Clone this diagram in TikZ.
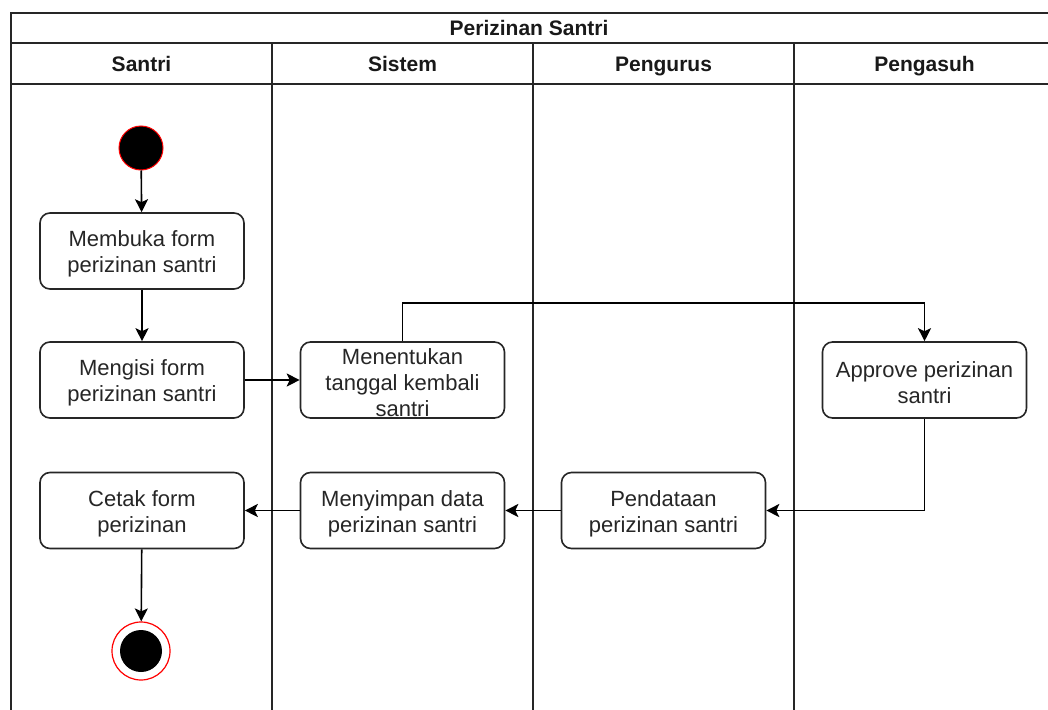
\documentclass[tikz,border=0pt]{standalone}
\usepackage{fontspec}
\setmainfont{Liberation Sans}
\usetikzlibrary{arrows.meta}
\begin{document}
\begin{tikzpicture}[x=1pt,y=-1pt,
  lane/.style={draw=black!85,line width=1.5pt},
  act/.style={draw=black!85,line width=1.6pt,rounded corners=10pt,fill=white,
    minimum width=204pt,minimum height=76pt,inner sep=0pt,
    label={[acttext]center:{#1}}},
  acttext/.style={align=center,inner sep=0pt,yshift=-3pt,
    font=\fontsize{22}{26}\selectfont,text=black!85},
  hdr/.style={font=\bfseries\fontsize{21}{25}\selectfont,text=black!90,
    text height=15pt,text depth=4.5pt,inner sep=0pt},
  flow/.style={draw=black,line width=1.6pt,-{Stealth[length=13pt,width=13pt,inset=3pt]}},
  startnode/.style={circle,fill=black,draw=red,line width=1pt,minimum size=44pt,inner sep=0pt},
]
\useasboundingbox (0,0) rectangle (1048,709);
\begin{scope}
\clip (0,0) rectangle (1048,709);
% pool frame and swimlanes
\draw[lane] (11,760) -- (11,13) -- (1100,13);
\draw[lane] (11,43) -- (1100,43);
\draw[lane] (11,84) -- (1100,84);
\foreach \lx in {272,533,794} \draw[lane] (\lx,43) -- (\lx,760);
\end{scope}
\node[hdr] (pool) at (529,30.5) {Perizinan Santri};
\node[hdr] (hsantri) at (141.5,66.5) {Santri};
\node[hdr] (hsistem) at (402.5,66.5) {Sistem};
\node[hdr] (hpengurus) at (663.5,66.5) {Pengurus};
\node[hdr] (hpengasuh) at (924.5,66.5) {Pengasuh};

% initial and final states
\node[startnode] (start) at (141,148) {};
\node[circle,draw=red,line width=1.2pt,fill=white,minimum size=58pt,inner sep=0pt] (end) at (141,651) {};
\node[circle,fill=black,minimum size=42pt,inner sep=0pt] (endcore) at (141,651) {};

% activities
\node[act={Membuka form\\perizinan santri}] (membuka) at (142,251) {};
\node[act={Mengisi form\\perizinan santri}] (mengisi) at (142,380) {};
\node[act={Menentukan\\tanggal kembali\\santri}] (menentukan) at (402.5,380) {};
\node[act={Approve perizinan\\santri}] (approve) at (924.5,380) {};
\node[act={Pendataan\\perizinan santri}] (pendataan) at (663.5,510.5) {};
\node[act={Menyimpan data\\perizinan santri}] (menyimpan) at (402.5,510.5) {};
\node[act={Cetak form\\perizinan}] (cetak) at (142,510.5) {};

% control flow
\draw[flow] (start) -- (membuka);
\draw[flow] (membuka) -- (mengisi);
\draw[flow] (mengisi) -- (menentukan);
\draw[flow] (menentukan.north) -- ++(0,-38) -| (approve.north);
\draw[flow] (approve.south) |- (pendataan.east);
\draw[flow] (pendataan) -- (menyimpan);
\draw[flow] (menyimpan) -- (cetak);
\draw[flow] (cetak) -- (end);
\end{tikzpicture}
\end{document}
